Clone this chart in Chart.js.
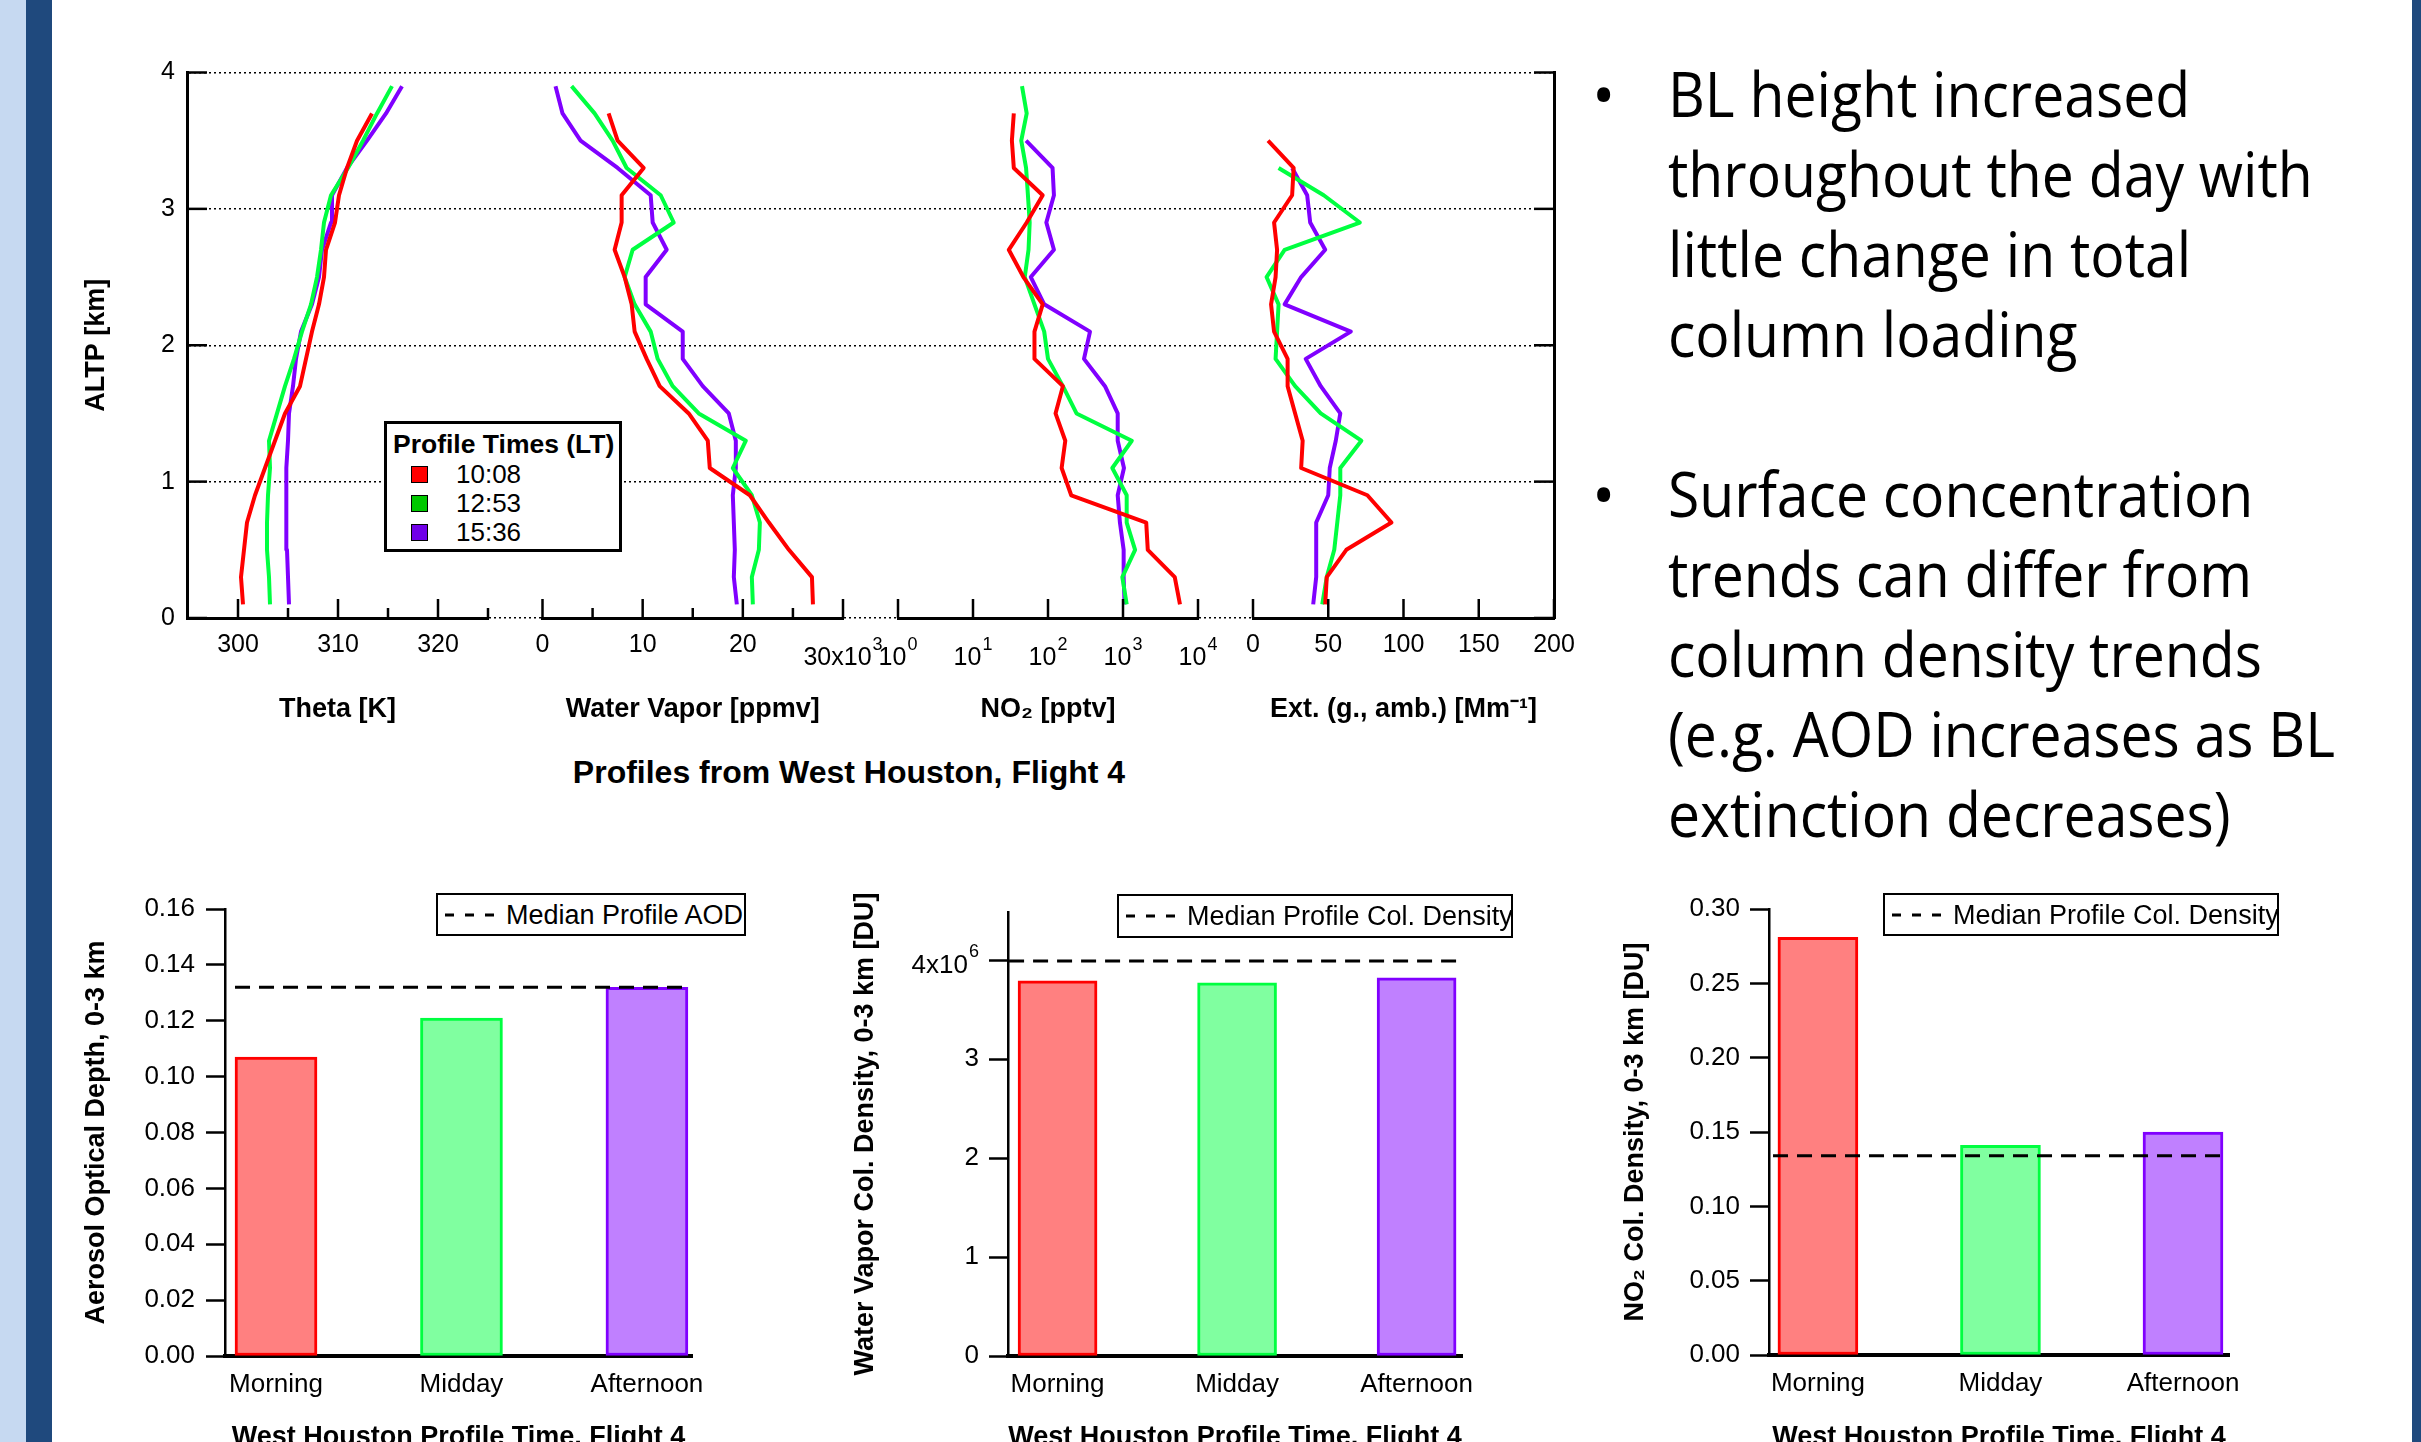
<!DOCTYPE html>
<html>
<head>
<meta charset="utf-8">
<title>West Houston profiles, Flight 4</title>
<script src="https://cdn.jsdelivr.net/npm/chart.js@4.4.1/dist/chart.umd.min.js"></script>
<style>
  html, body { margin: 0; padding: 0; }
  body {
    position: relative;
    width: 2421px;
    height: 1442px;
    overflow: hidden;
    background: #fff;
    color: #000;
    font-family: "Liberation Sans", Arial, sans-serif;
  }
  canvas, .abs { position: absolute; }
  .band-light { left: 0; top: 0; width: 26px; height: 1442px; background: #c6d9f1; }
  .band-dark { left: 26px; top: 0; width: 26px; height: 1442px; background: #1f497d; }
  .band-right { left: 2412px; top: 0; width: 9px; height: 1442px; background: #1f497d; }
  .legend { background: #fff; border: 3px solid #000; box-sizing: border-box; z-index: 5; }
  .lg-text { font-size: 26px; line-height: 30px; white-space: nowrap; z-index: 6; }
  .swatch { width: 17px; height: 17px; box-sizing: border-box; border: 1.5px solid #000; z-index: 6; }
  .bullets { font-family: "Open Sans", "Noto Sans", sans-serif; font-size: 62px; line-height: 80px; white-space: nowrap; }
  .main-title { left: 0; top: 753px; width: 1698px; text-align: center; font-weight: bold; font-size: 32px; line-height: 38px; }
</style>
</head>
<body>
<div class="abs band-light"></div>
<div class="abs band-dark"></div>
<div class="abs band-right"></div>

<div class="abs main-title">Profiles from West Houston, Flight 4</div>

<div class="abs legend" style="left:384px;top:421px;width:238px;height:131px"></div>
<div class="abs lg-text" style="left:393px;top:429px;font-weight:bold;font-size:26.5px">Profile Times (LT)</div>

<div class="abs bullets" style="left:1592px;top:53px">•<br>&nbsp;<br>&nbsp;<br>&nbsp;<br>&nbsp;<br>•</div>
<div class="abs bullets" id="bulletText" style="left:1668px;top:53px;transform-origin:0 0">
  <div><span>BL height increased</span></div>
  <div>throughout the day with</div>
  <div>little change in total</div>
  <div>column loading</div>
  <div>&nbsp;</div>
  <div>Surface concentration</div>
  <div>trends can differ from</div>
  <div>column density trends</div>
  <div>(e.g. AOD increases as BL</div>
  <div>extinction decreases)</div>
</div>

<script>
// ---- data ----
// altitude levels of the profiles [km]
const altitudes = [0.1, 0.3, 0.5, 0.7, 0.9, 1.1, 1.3, 1.5, 1.7, 1.9, 2.1, 2.3, 2.5, 2.7, 2.9, 3.1, 3.3, 3.5, 3.7, 3.9];
const profileTimes = ["10:08", "12:53", "15:36"];

// Theta [K]
const thetaMorning   = [300.5, 300.3, 300.6, 300.9, 301.7, 302.7, 303.7, 304.7, 306.2, 306.8, 307.4, 308.1, 308.6, 308.8, 309.7, 310.1, 310.9, 311.9, 313.4, null];
const thetaMidday    = [303.2, 303.1, 302.9, 302.9, 303.0, 303.2, 303.1, 303.9, 304.7, 305.6, 306.4, 307.3, 307.9, 308.3, 308.6, 309.3, 311.0, 312.5, 313.9, 315.4];
const thetaAfternoon = [305.1, 305.0, 304.9, 304.8, 304.8, 304.9, 305.0, 305.1, 305.5, 305.8, 306.3, 307.4, 308.1, 308.4, 309.3, 309.4, 310.9, 312.9, 314.8, 316.4];

// Water vapor [ppmv x 10^3]
const wvMorning   = [27.0, 26.9, 24.6, 22.6, 20.7, 16.7, 16.5, 14.6, 11.7, 10.4, 9.2, 8.9, 8.2, 7.2, 7.9, 7.9, 10.1, 7.5, 6.6, null];
const wvMidday    = [21.0, 20.9, 21.6, 21.7, 20.9, 19.0, 20.3, 15.6, 13.0, 11.5, 10.8, 9.2, 8.2, 9.0, 13.1, 11.8, 8.4, 7.0, 5.2, 2.9];
const wvAfternoon = [19.4, 19.1, 19.2, 19.1, 19.0, 19.3, 19.3, 18.6, 16.0, 14.0, 14.0, 10.3, 10.3, 12.4, 11.0, 10.8, 7.5, 3.8, 2.0, 1.3];

// NO2 [pptv]
const no2Morning   = [5750, 4900, 2140, 2040, 204, 152, 170, 126, 158, 66, 66, 85, 47, 30, 52, 85, 35, 33, 35, null];
const no2Midday    = [1120, 980, 1450, 1120, 1120, 720, 1310, 240, 158, 100, 89, 66, 49, 55, 57, 54, 51, 44, 52, 45];
const no2Afternoon = [1050, 1020, 1020, 910, 850, 1030, 850, 850, 575, 302, 363, 89, 59, 120, 95, 120, 115, 51, null, null];

// Extinction [Mm-1]
const extMorning   = [48, 49, 62, 92, 76, 32, 33, 28, 23, 23, 14, 12, 15, 16, 14, 26, 27, 10, null, null];
const extMidday    = [46, 49, 54, 56, 58, 58, 72, 45, 28, 15, 16, 17, 9, 21, 71, 47, 17, null, null, null];
const extAfternoon = [40, 42, 42, 42, 50, 51, 55, 58, 45, 35, 65, 21, 32, 48, 38, 36, 26, null, null, null];

// column values
const categories = ["Morning", "Midday", "Afternoon"];
const aodValues = [0.107, 0.121, 0.132];
const aodMedian = 0.132;
const wvColValues = [3.79, 3.77, 3.82]; // x10^6 DU
const wvColMedian = 3.99;
const no2ColValues = [0.281, 0.141, 0.150];
const no2ColMedian = 0.134;

// ticks and tick labels ("^" marks a power of ten)
const altTicks = [0, 1, 2, 3, 4];
const thetaTicks = [300, 310, 320];
const thetaMinor = [305, 315, 325];
const wvTicks = [0, 10, 20, 30];
const wvTickLabels = ["0", "10", "20", "30x10^3"];
const wvMinor = [5, 15, 25];
const no2Ticks = [1, 10, 100, 1000, 10000];
const no2TickLabels = ["10^0", "10^1", "10^2", "10^3", "10^4"];
const extTicks = [0, 50, 100, 150, 200];
const aodTicks = [0, 0.02, 0.04, 0.06, 0.08, 0.10, 0.12, 0.14, 0.16];
const aodTickLabels = aodTicks.map((v) => v.toFixed(2));
const wvColTicks = [0, 1, 2, 3, 4];
const wvColTickLabels = ["0", "1", "2", "3", "4x10^6"];
const no2ColTicks = [0, 0.05, 0.10, 0.15, 0.20, 0.25, 0.30];
const no2ColTickLabels = no2ColTicks.map((v) => v.toFixed(2));

// ---- styles ----
const FONT = '"Liberation Sans", Arial, sans-serif';
const lineColors = ["#ff0000", "#00ff40", "#8000ff"];
const swatchColors = ["#ff0000", "#00c800", "#7000e8"];
const barFills = ["#ff8080", "#80ffa0", "#c080ff"];
const barBorders = ["#ff0000", "#00ff40", "#8000ff"];

Chart.defaults.font.family = FONT;
Chart.defaults.color = "#000";
Chart.defaults.animation = false;
Chart.defaults.events = [];
Chart.defaults.plugins.legend.display = false;
Chart.defaults.plugins.tooltip.enabled = false;

const plainLabel = (labels) => (v, i) => (labels[i].includes("^") ? "" : labels[i]);

// tick marks pointing into the plot
const innerTicks = {
  id: "innerTicks",
  afterDraw(chart, args, opts) {
    const ctx = chart.ctx;
    const area = chart.chartArea;
    ctx.save();
    ctx.strokeStyle = "#000";
    ctx.lineWidth = 2.5;
    (opts.marks || []).forEach((m) => {
      const scale = chart.scales[m.scale];
      m.values.forEach((v) => {
        const p = scale.getPixelForValue(v);
        ctx.beginPath();
        if (scale.isHorizontal()) {
          ctx.moveTo(p, area.bottom);
          ctx.lineTo(p, area.bottom - m.len);
        } else if (scale.position === "left") {
          ctx.moveTo(area.left, p);
          ctx.lineTo(area.left + m.len, p);
        } else {
          ctx.moveTo(area.right, p);
          ctx.lineTo(area.right - m.len, p);
        }
        ctx.stroke();
      });
    });
    ctx.restore();
  },
};

// tick labels with a raised exponent, e.g. 10^3
const powerLabels = {
  id: "powerLabels",
  afterDraw(chart, args, opts) {
    if (!opts.scale) return;
    const ctx = chart.ctx;
    const area = chart.chartArea;
    const scale = chart.scales[opts.scale];
    ctx.save();
    ctx.fillStyle = "#000";
    ctx.textBaseline = "alphabetic";
    ctx.textAlign = "left";
    opts.values.forEach((v, i) => {
      const label = opts.labels[i];
      if (!label.includes("^")) return;
      const [base, sup] = label.split("^");
      ctx.font = opts.size + "px " + FONT;
      const bw = ctx.measureText(base).width;
      ctx.font = opts.supSize + "px " + FONT;
      const sw = ctx.measureText(sup).width;
      const total = bw + 1 + sw;
      const p = scale.getPixelForValue(v);
      let x, y;
      if (scale.isHorizontal()) {
        x = p - total / 2;
        y = area.bottom + opts.offset;
      } else {
        x = area.left - opts.offset - total;
        y = p + opts.dy;
      }
      ctx.font = opts.size + "px " + FONT;
      ctx.fillText(base, x, y);
      ctx.font = opts.supSize + "px " + FONT;
      ctx.fillText(sup, x + bw + 1, y - opts.rise);
    });
    ctx.restore();
  },
};

function addCanvas(left, top, w, h) {
  const c = document.createElement("canvas");
  c.width = w;
  c.height = h;
  c.style.left = left + "px";
  c.style.top = top + "px";
  c.style.width = w + "px";
  c.style.height = h + "px";
  document.body.appendChild(c);
  return c;
}

// ---- top panel ----
const TOP = 72.5, BOTTOM = 618, LEFT = 187, RIGHT = 1554;
const frameW = 1600, frameH = 760;

new Chart(addCanvas(0, 0, frameW, frameH), {
  type: "line",
  data: { datasets: [] },
  options: {
    responsive: false,
    layout: { padding: { top: TOP, bottom: frameH - BOTTOM, left: 0, right: 0 } },
    scales: {
      x: { type: "linear", display: false, min: 0, max: 1 },
      y: {
        min: 0,
        max: 4,
        afterFit: (s) => { s.width = LEFT; },
        afterBuildTicks: (s) => { s.ticks = altTicks.map((v) => ({ value: v })); },
        ticks: { font: { size: 25 }, padding: 12 },
        grid: { color: "#000", lineWidth: 1.5, drawTicks: false },
        border: { display: true, color: "#000", width: 3, dash: [2, 3] },
        title: { display: true, text: "ALTP [km]", font: { size: 27, weight: "bold" }, padding: { top: 80.8, bottom: 0 } },
      },
      y2: {
        position: "right",
        min: 0,
        max: 4,
        afterFit: (s) => { s.width = frameW - RIGHT; },
        ticks: { display: false },
        grid: { display: false },
        border: { display: true, color: "#000", width: 3 },
      },
    },
    plugins: {
      innerTicks: {
        marks: [
          { scale: "y", values: altTicks, len: 20 },
          { scale: "y2", values: altTicks, len: 20 },
        ],
      },
    },
  },
  plugins: [innerTicks],
});

function profilePanel(x0, x1, xOpts, series, tickValues, tickLabels, marks, titleText, labelPad) {
  const pad = 60;
  const left = Math.floor(x0) - pad;
  const w = Math.ceil(x1) + pad - left;
  new Chart(addCanvas(left, 0, w, frameH), {
    type: "line",
    data: {
      datasets: series.map((vals, i) => ({
        label: profileTimes[i],
        data: altitudes.map((a, k) => ({ x: vals[k], y: a })).filter((p) => p.x !== null),
        borderColor: lineColors[i],
        borderWidth: 4,
        borderJoinStyle: "round",
        pointRadius: 0,
        tension: 0,
      })),
    },
    options: {
      responsive: false,
      layout: { padding: { left: x0 - left, right: left + w - x1, top: TOP, bottom: 0 } },
      scales: {
        x: Object.assign({
          position: "bottom",
          afterFit: (s) => { s.height = frameH - BOTTOM; },
          afterBuildTicks: (s) => { s.ticks = tickValues.map((v) => ({ value: v })); },
          ticks: {
            font: { size: 25 },
            padding: labelPad,
            maxRotation: 0,
            autoSkip: false,
            callback: plainLabel(tickLabels),
          },
          grid: { display: false, drawTicks: false },
          border: { display: true, color: "#000", width: 3 },
          title: { display: true, text: titleText, font: { size: 27, weight: "bold" }, padding: { top: 0, bottom: 34.3 } },
        }, xOpts),
        y: { display: false, min: 0, max: 4 },
      },
      plugins: {
        innerTicks: { marks },
        powerLabels: { scale: "x", values: tickValues, labels: tickLabels, size: 25, supSize: 18, offset: 47, rise: 15 },
      },
    },
    plugins: [innerTicks, powerLabels],
  });
}

profilePanel(187, 488, { type: "linear", min: 294.9, max: 325 },
  [thetaMorning, thetaMidday, thetaAfternoon], thetaTicks, thetaTicks.map(String),
  [{ scale: "x", values: thetaTicks, len: 19 }, { scale: "x", values: thetaMinor, len: 10 }],
  "Theta [K]", 12);

profilePanel(542.5, 843, { type: "linear", min: 0, max: 30 },
  [wvMorning, wvMidday, wvAfternoon], wvTicks, wvTickLabels,
  [{ scale: "x", values: wvTicks, len: 19 }, { scale: "x", values: wvMinor, len: 10 }],
  "Water Vapor [ppmv]", 12);

profilePanel(898, 1198, { type: "logarithmic", min: 1, max: 10000 },
  [no2Morning, no2Midday, no2Afternoon], no2Ticks, no2TickLabels,
  [{ scale: "x", values: no2Ticks, len: 19 }],
  "NO₂ [pptv]", 12);

profilePanel(1253, 1554, { type: "linear", min: 0, max: 200 },
  [extMorning, extMidday, extAfternoon], extTicks, extTicks.map(String),
  [{ scale: "x", values: extTicks, len: 19 }],
  "Ext. (g., amb.) [Mm⁻¹]", 12);

// legend of the profile times
profileTimes.forEach((t, i) => {
  const cy = 474 + i * 29;
  const sw = document.createElement("div");
  sw.className = "abs swatch";
  sw.style.left = "411px";
  sw.style.top = cy - 8.5 + "px";
  sw.style.background = swatchColors[i];
  document.body.appendChild(sw);
  const tx = document.createElement("div");
  tx.className = "abs lg-text";
  tx.style.left = "456px";
  tx.style.top = cy - 15 + "px";
  tx.textContent = t;
  document.body.appendChild(tx);
});

// ---- bottom bar charts ----
function barPanel(o) {
  const canvas = addCanvas(o.left, o.top, o.width, o.height);
  new Chart(canvas, {
    type: "bar",
    data: {
      datasets: [
        {
          type: "line",
          label: o.legendText,
          data: [{ x: o.medSpan[0], y: o.median }, { x: o.medSpan[1], y: o.median }],
          borderColor: "#000",
          borderWidth: 3,
          borderDash: [15, 9],
          pointRadius: 0,
          order: 0,
        },
        {
          label: o.yTitle,
          data: categories.map((c, i) => ({ x: i, y: o.values[i] })),
          backgroundColor: barFills,
          borderColor: barBorders,
          borderWidth: 3,
          borderSkipped: false,
          barThickness: o.barW,
          order: 1,
        },
      ],
    },
    options: {
      responsive: false,
      layout: { padding: { left: 0, top: o.area.t - o.top, right: o.left + o.width - o.area.r, bottom: 0 } },
      scales: {
        x: {
          type: "linear",
          offset: false,
          min: o.xMin,
          max: o.xMax,
          afterFit: (s) => { s.height = o.top + o.height - o.area.b; },
          afterBuildTicks: (s) => { s.ticks = categories.map((c, i) => ({ value: i })); },
          ticks: { font: { size: 26 }, padding: 13.5, maxRotation: 0, autoSkip: false, callback: (v, i) => categories[i] },
          grid: { display: false, drawTicks: false, offset: false },
          border: { display: true, color: "#000", width: 4 },
          title: { display: true, text: "West Houston Profile Time, Flight 4", font: { size: 27, weight: "bold" }, padding: { top: 0, bottom: 26.3 } },
        },
        y: {
          min: 0,
          max: o.yMax,
          afterFit: (s) => { s.width = o.area.l - o.left; },
          afterBuildTicks: (s) => { s.ticks = o.yTicks.map((v) => ({ value: v })); },
          ticks: { font: { size: 26 }, padding: o.tickPad, autoSkip: false, callback: plainLabel(o.yLabels) },
          grid: { display: true, drawOnChartArea: false, drawTicks: true, tickLength: 19, tickWidth: 2.5, tickColor: "#000" },
          border: { display: true, color: "#000", width: 2.5 },
          title: { display: true, text: o.yTitle, font: { size: 27, weight: "bold" }, padding: { top: o.titlePad, bottom: 0 } },
        },
      },
      plugins: {
        powerLabels: { scale: "y", values: o.yTicks, labels: o.yLabels, size: 26, supSize: 18, offset: 19 + o.tickPad, dy: 13, rise: 16 },
      },
    },
    plugins: [powerLabels],
  });

  // legend box
  const b = o.legendBox;
  const box = document.createElement("div");
  box.className = "abs legend";
  Object.assign(box.style, { left: b[0] + "px", top: b[1] + "px", width: b[2] + "px", height: b[3] + "px", borderWidth: "2.5px" });
  document.body.appendChild(box);
  const cy = b[1] + b[3] / 2;
  const sample = document.createElementNS("http://www.w3.org/2000/svg", "svg");
  sample.setAttribute("class", "abs");
  sample.setAttribute("width", "50");
  sample.setAttribute("height", "6");
  sample.style.left = b[0] + 9 + "px";
  sample.style.top = cy - 3 + "px";
  sample.style.zIndex = 6;
  sample.innerHTML = '<line x1="0" y1="3" x2="50" y2="3" stroke="#000" stroke-width="3" stroke-dasharray="9 11"/>';
  document.body.appendChild(sample);
  const tx = document.createElement("div");
  tx.className = "abs lg-text";
  tx.style.fontSize = "27px";
  tx.style.left = b[0] + 70 + "px";
  tx.style.top = cy - 15 + "px";
  tx.textContent = o.legendText;
  document.body.appendChild(tx);
}

barPanel({
  left: 40, top: 860, width: 730, height: 620,
  area: { l: 225, r: 692, t: 909, b: 1356 },
  xMin: -0.275, xMax: 2.243, barW: 82, medSpan: [-0.221, 2.237],
  values: aodValues, median: aodMedian, yMax: 0.16, yTicks: aodTicks, yLabels: aodTickLabels,
  tickPad: 11, titlePad: 40.8,
  yTitle: "Aerosol Optical Depth, 0-3 km",
  legendText: "Median Profile AOD", legendBox: [436, 893, 310, 43],
});

barPanel({
  left: 820, top: 860, width: 690, height: 620,
  area: { l: 1008, r: 1462, t: 912, b: 1356 },
  xMin: -0.276, xMax: 2.253, barW: 79, medSpan: [-0.27, 2.22],
  values: wvColValues, median: wvColMedian, yMax: 4.485, yTicks: wvColTicks, yLabels: wvColTickLabels,
  tickPad: 10, titlePad: 29.8,
  yTitle: "Water Vapor Col. Density, 0-3 km [DU]",
  legendText: "Median Profile Col. Density", legendBox: [1117, 894, 396, 44],
});

barPanel({
  left: 1590, top: 860, width: 680, height: 620,
  area: { l: 1769, r: 2229, t: 909, b: 1355 },
  xMin: -0.268, xMax: 2.252, barW: 80, medSpan: [-0.246, 2.252],
  values: no2ColValues, median: no2ColMedian, yMax: 0.30, yTicks: no2ColTicks, yLabels: no2ColTickLabels,
  tickPad: 10, titlePad: 29.8,
  yTitle: "NO₂ Col. Density, 0-3 km [DU]",
  legendText: "Median Profile Col. Density", legendBox: [1883, 893, 396, 43],
});

// fit the bullet text to the slide width
function fitBullets() {
  const bt = document.getElementById("bulletText");
  const w = bt.querySelector("span").offsetWidth;
  if (w > 0) bt.style.transform = "scaleX(" + (522 / w).toFixed(4) + ")";
}
fitBullets();
document.fonts.ready.then(fitBullets);
</script>
</body>
</html>
